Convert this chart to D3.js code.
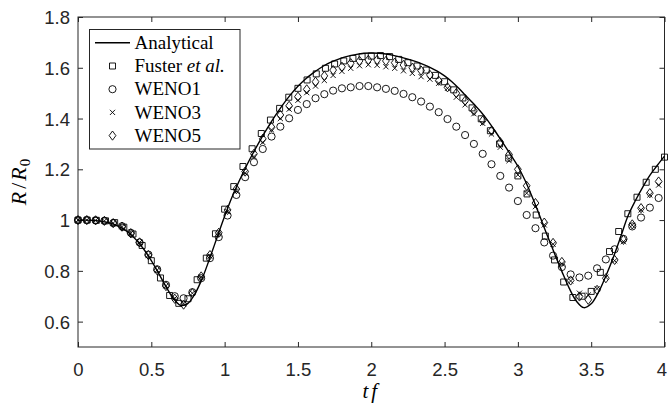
<!DOCTYPE html>
<html><head><meta charset="utf-8">
<script src="https://cdn.jsdelivr.net/npm/d3@7"></script>
<style>body{margin:0;background:#fff}svg{display:block}</style>
</head><body><svg id="c" width="668" height="407"></svg>
<script>
const xTicks=[0,0.5,1,1.5,2,2.5,3,3.5,4];
const xTickLabels=["0","0.5","1","1.5","2","2.5","3","3.5","4"];
const yTicks=[0.6,0.8,1,1.2,1.4,1.6,1.8];
const yTickLabels=["0.6","0.8","1","1.2","1.4","1.6","1.8"];
const seriesNames=["Analytical","Fuster","WENO1","WENO3","WENO5"];

const tAnalytical=[0,0.05,0.1,0.15,0.2,0.25,0.3,0.35,0.4,0.45,0.5,0.55,0.6,0.65,0.7,0.75,0.8,0.85,0.9,0.95,
1,1.05,1.1,1.15,1.2,1.25,1.3,1.35,1.4,1.45,1.5,1.55,1.6,1.65,1.7,1.75,1.8,1.85,1.9,1.95,
2,2.05,2.1,2.15,2.2,2.25,2.3,2.35,2.4,2.45,2.5,2.55,2.6,2.65,2.7,2.75,2.8,2.85,2.9,2.95,
3,3.05,3.1,3.15,3.2,3.25,3.3,3.35,3.4,3.45,3.5,3.55,3.6,3.65,3.7,3.75,3.8,3.85,3.9,3.95,4];
const rAnalytical=[1.000,1.000,0.999,0.996,0.991,0.982,0.968,0.948,0.920,0.884,0.840,0.790,0.738,0.692,0.664,0.672,0.712,0.774,0.852,0.934,
1.015,1.090,1.155,1.215,1.270,1.322,1.370,1.415,1.457,1.494,1.527,1.555,1.578,1.598,1.615,1.628,1.639,1.647,1.653,1.657,
1.658,1.657,1.654,1.649,1.642,1.634,1.625,1.614,1.602,1.587,1.568,1.545,1.517,1.487,1.457,1.425,1.388,1.346,1.302,1.258,
1.212,1.155,1.088,1.015,0.940,0.868,0.798,0.732,0.680,0.655,0.670,0.716,0.780,0.852,0.932,1.015,1.075,1.128,1.176,1.215,1.252];

const tFuster=[0,0.0625,0.125,0.1875,0.25,0.3125,0.375,0.4375,0.5,0.5625,0.625,0.6875,0.75,0.8125,0.875,0.9375,
1,1.0625,1.125,1.1875,1.25,1.3125,1.375,1.4375,1.5,1.5625,1.625,1.6875,1.75,1.8125,1.875,1.9375,
2,2.0625,2.125,2.1875,2.25,2.3125,2.375,2.4375,2.5,2.5625,2.625,2.6875,2.75,2.8125,2.875,2.9375,
3,3.0625,3.125,3.1875,3.25,3.3125,3.375,3.4375,3.5,3.5625,3.625,3.6875,3.75,3.8125,3.875,3.9375,4];
const rFuster=[1.000,1.000,0.999,0.997,0.990,0.972,0.945,0.900,0.840,0.772,0.703,0.672,0.690,0.765,0.850,0.946,
1.043,1.132,1.211,1.281,1.341,1.394,1.440,1.484,1.519,1.552,1.576,1.598,1.615,1.627,1.637,1.644,
1.646,1.648,1.644,1.633,1.620,1.607,1.591,1.570,1.545,1.513,1.481,1.442,1.399,1.352,1.300,1.244,
1.174,1.103,1.020,0.937,0.843,0.756,0.695,0.700,0.719,0.794,0.876,0.955,1.025,1.090,1.149,1.200,1.248];

const tWeno=[0,0.06,0.12,0.18,0.24,0.3,0.36,0.42,0.48,0.54,0.6,0.66,0.72,0.78,0.84,0.9,0.96,
1.02,1.08,1.14,1.2,1.26,1.32,1.38,1.44,1.5,1.56,1.62,1.68,1.74,1.8,1.86,1.92,1.98,
2.04,2.1,2.16,2.22,2.28,2.34,2.4,2.46,2.52,2.58,2.64,2.7,2.76,2.82,2.88,2.94,
3,3.06,3.12,3.18,3.24,3.3,3.36,3.42,3.48,3.54,3.6,3.66,3.72,3.78,3.84,3.9,3.96];
const rWeno1=[1.000,1.000,0.999,0.997,0.988,0.976,0.950,0.912,0.864,0.806,0.745,0.700,0.692,0.716,0.771,0.850,0.933,
1.018,1.099,1.169,1.228,1.280,1.329,1.368,1.401,1.434,1.457,1.480,1.496,1.510,1.519,1.523,1.528,1.528,
1.523,1.517,1.509,1.497,1.484,1.467,1.447,1.425,1.398,1.368,1.335,1.300,1.261,1.220,1.174,1.128,
1.075,1.020,0.968,0.912,0.860,0.815,0.786,0.774,0.781,0.810,0.845,0.885,0.926,0.975,1.010,1.049,1.087];
const rWeno3=[1.000,1.000,0.999,0.997,0.988,0.974,0.948,0.912,0.862,0.803,0.741,0.692,0.670,0.712,0.776,0.858,0.945,
1.033,1.114,1.185,1.250,1.306,1.355,1.400,1.437,1.472,1.502,1.528,1.550,1.570,1.586,1.598,1.608,1.612,
1.610,1.604,1.598,1.588,1.578,1.565,1.555,1.539,1.519,1.484,1.454,1.419,1.381,1.339,1.287,1.234,
1.178,1.106,1.053,0.981,0.905,0.828,0.760,0.712,0.705,0.730,0.775,0.840,0.915,0.980,1.040,1.099,1.138];
const rWeno5=[1.000,1.000,0.999,0.997,0.988,0.974,0.948,0.912,0.862,0.802,0.740,0.690,0.667,0.712,0.778,0.862,0.950,
1.040,1.122,1.191,1.261,1.320,1.366,1.414,1.450,1.486,1.515,1.545,1.568,1.591,1.604,1.618,1.627,1.631,
1.631,1.627,1.620,1.611,1.600,1.589,1.572,1.549,1.523,1.500,1.470,1.430,1.392,1.352,1.307,1.258,
1.200,1.135,1.067,0.990,0.910,0.835,0.762,0.699,0.686,0.725,0.771,0.843,0.922,0.983,1.047,1.106,1.152];

const svg=d3.select("#c");
const L=78,R=664.5,T=17,B=347;
const x=d3.scaleLinear().domain([0,4]).range([L,R]);
const y=d3.scaleLinear().domain([0.5,1.8]).range([B,T]);
const axC="#262626";
const tickFont="'Liberation Sans', Arial, Helvetica, sans-serif";
const serif="'Liberation Serif','Times New Roman',serif";

// axes
const gx=svg.append("g").attr("transform",`translate(0,${B})`)
  .call(d3.axisBottom(x).tickValues(xTicks).tickSize(-5).tickSizeOuter(0).tickFormat((d,i)=>xTickLabels[i]));
gx.select(".domain").remove();
gx.selectAll("line").attr("stroke",axC);
gx.selectAll("text").attr("y",29).attr("dy",null).attr("fill",axC).style("font-family",tickFont).style("font-size","18.5px")
  .attr("x",(d,i)=>i===xTicks.length-1?-3:0);
const gt=svg.append("g").attr("transform",`translate(0,${T})`)
  .call(d3.axisTop(x).tickValues(xTicks).tickSize(-5).tickSizeOuter(0).tickFormat(""));
gt.select(".domain").remove();gt.selectAll("line").attr("stroke",axC);
const gy=svg.append("g").attr("transform",`translate(${L},0)`)
  .call(d3.axisLeft(y).tickValues(yTicks).tickSize(-5).tickSizeOuter(0).tickFormat((d,i)=>yTickLabels[i]));
gy.select(".domain").remove();
gy.selectAll("line").attr("stroke",axC);
gy.selectAll("text").attr("x",-8).attr("dy","0.35em").attr("fill",axC).style("font-family",tickFont).style("font-size","18.5px");
const gr=svg.append("g").attr("transform",`translate(${R},0)`)
  .call(d3.axisRight(y).tickValues(yTicks).tickSize(-5).tickSizeOuter(0).tickFormat(""));
gr.select(".domain").remove();gr.selectAll("line").attr("stroke",axC);
svg.append("rect").attr("x",L).attr("y",T).attr("width",R-L).attr("height",B-T)
  .attr("fill","none").attr("stroke",axC).attr("stroke-width",1);

// clip
svg.append("clipPath").attr("id","clip").append("rect").attr("x",L-6).attr("y",T).attr("width",R-L+12).attr("height",B-T);
const plot=svg.append("g").attr("clip-path","url(#clip)");

// marker paths
function markerPath(kind){
  const p=d3.path();
  if(kind==="square"){p.rect(-3,-3,6,6);}
  else if(kind==="circle"){p.moveTo(3.6,0);p.arc(0,0,3.6,0,2*Math.PI);}
  else if(kind==="times"){p.moveTo(-2.6,-2.6);p.lineTo(2.6,2.6);p.moveTo(-2.6,2.6);p.lineTo(2.6,-2.6);}
  else if(kind==="diamond"){p.moveTo(0,-4.6);p.lineTo(3.4,0);p.lineTo(0,4.6);p.lineTo(-3.4,0);p.closePath();}
  return p.toString();
}
function drawMarkers(ts,rs,kind){
  plot.append("g").selectAll("path").data(ts.map((t,i)=>[t,rs[i]])).join("path")
    .attr("d",markerPath(kind)).attr("transform",d=>`translate(${x(d[0])},${y(d[1])})`)
    .attr("fill","none").attr("stroke","#000").attr("stroke-width",0.9);
}
drawMarkers(tFuster,rFuster,"square");
drawMarkers(tWeno,rWeno1,"circle");
drawMarkers(tWeno,rWeno3,"times");
drawMarkers(tWeno,rWeno5,"diamond");

const line=d3.line().x(d=>x(d[0])).y(d=>y(d[1])).curve(d3.curveCatmullRom.alpha(0.5));
plot.append("path").datum(tAnalytical.map((t,i)=>[t,rAnalytical[i]]))
  .attr("d",line).attr("fill","none").attr("stroke","#000").attr("stroke-width",1.4);

// legend
const lg=svg.append("g");
lg.append("rect").attr("x",89.5).attr("y",29.5).attr("width",150.5).attr("height",119.5)
  .attr("fill","#fff").attr("stroke",axC).attr("stroke-width",1);
const rowY=[42.7,66,89.2,112.4,135.6];
lg.append("line").attr("x1",95).attr("x2",130).attr("y1",rowY[0]).attr("y2",rowY[0]).attr("stroke","#000").attr("stroke-width",1.4);
["square","circle","times","diamond"].forEach((k,i)=>{
  lg.append("path").attr("d",markerPath(k)).attr("transform",`translate(112.5,${rowY[i+1]})`)
    .attr("fill","none").attr("stroke","#000").attr("stroke-width",0.9);
});
const labels=[[["Analytical",false]],[["Fuster ",false],["et al.",true]],[["WENO1",false]],[["WENO3",false]],[["WENO5",false]]];
labels.forEach((parts,i)=>{
  const t=lg.append("text").attr("x",134.5).attr("y",rowY[i]+6.2)
    .style("font-family",serif).style("font-size","19px").attr("fill","#000");
  parts.forEach(p=>t.append("tspan").text(p[0]).style("font-style",p[1]?"italic":"normal"));
});

// axis labels
const xl=svg.append("text").attr("x",(L+R)/2).attr("y",398).attr("text-anchor","middle")
  .style("font-family",serif).style("font-size","21px").style("font-style","italic").attr("fill","#000")
  .style("letter-spacing","3px").text("tf");
const yl=svg.append("text").attr("transform",`translate(26,${(T+B)/2}) rotate(-90)`).attr("text-anchor","middle")
  .style("font-family",serif).style("font-size","22px").attr("fill","#000");
yl.append("tspan").style("font-style","italic").text("R");
yl.append("tspan").attr("dx",3).text("/");
yl.append("tspan").attr("dx",2).style("font-style","italic").text("R");
yl.append("tspan").attr("dy",4).attr("dx",1).style("font-size","15px").text("0");
</script></body></html>
